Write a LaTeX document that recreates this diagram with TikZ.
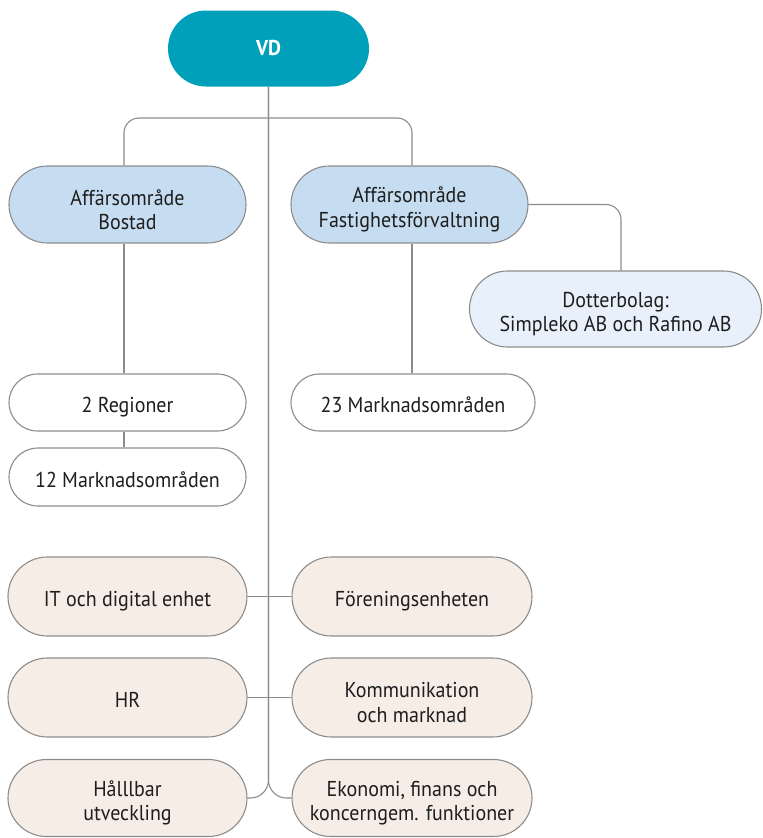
\documentclass[tikz,border=0pt]{standalone}
\usepackage{fontspec}
\setmainfont{PT Sans}[FakeStretch=0.93]
\usetikzlibrary{shapes.misc}
\definecolor{teal}{HTML}{00A0BA}
\definecolor{aoblue}{HTML}{C6DDF1}
\definecolor{subblue}{HTML}{E8F1FB}
\definecolor{beige}{HTML}{F6EDE7}
\definecolor{edge}{HTML}{8C8C8C}
\definecolor{txt}{HTML}{1E1E1E}
\tikzset{
  pill/.style={rounded rectangle, draw=edge, line width=1.1pt, inner sep=0pt,
    align=center, text=txt, font=\fontsize{21.5}{24.5}\selectfont,
    execute at begin node=\rule{0pt}{26pt},
    execute at end node=\rule[-6pt]{0pt}{6pt}},
  pilltext/.style={inner sep=0pt, align=center, text=txt, font=\fontsize{21.5}{24.5}\selectfont},
  conn/.style={draw=edge, line width=1.1pt},
}
\begin{document}
\begin{tikzpicture}[x=1pt,y=-1pt]
\useasboundingbox (0,0) rectangle (763,838);
% nodes
\node[rounded rectangle, fill=teal, inner sep=0pt, minimum width=201pt, minimum height=76pt, text=white, font=\fontsize{21.5}{24}\selectfont\bfseries] (vd) at (268.5,48.5) {\rule[-6pt]{0pt}{26pt}VD};
\node[pill, fill=aoblue, minimum width=237pt, minimum height=77pt] (bostad) at (127.5,204.5) {};
\node[pill, fill=aoblue, minimum width=237pt, minimum height=77pt] (fast) at (409.5,204.5) {};
\node[pill, fill=subblue, minimum width=292pt, minimum height=76pt] (dotter) at (615.5,309) {};
\node[pill, fill=white, minimum width=237pt, minimum height=57pt] (reg) at (127.5,402.5) {2 Regioner};
\node[pill, fill=white, minimum width=237pt, minimum height=58pt] (mk12) at (127.5,477) {12 Marknadsområden};
\node[pill, fill=white, minimum width=244pt, minimum height=57pt] (mk23) at (413,402.5) {23 Marknadsområden};
\node[pill, fill=beige, minimum width=239pt, minimum height=79pt] (it) at (127.5,596.5) {IT och digital enhet};
\node[pill, fill=beige, minimum width=240pt, minimum height=79pt] (foren) at (412,596.5) {Föreningsenheten};
\node[pill, fill=beige, minimum width=239pt, minimum height=79pt] (hr) at (127.5,697.5) {HR};
\node[pill, fill=beige, minimum width=240pt, minimum height=79pt] (komm) at (412,697.5) {};
\node[pill, fill=beige, minimum width=239pt, minimum height=77pt] (hall) at (127.5,798) {};
\node[pill, fill=beige, minimum width=240pt, minimum height=77pt] (ekon) at (412,798) {};
% two-line texts
\node[pilltext] (bostadT) at ([yshift=-5pt]bostad.center) {Affärsområde\\Bostad};
\node[pilltext] (fastT) at ([yshift=-5pt]fast.center) {Affärsområde\\Fastighetsförvaltning};
\node[pilltext] (dotterT) at ([yshift=-5pt]dotter.center) {Dotterbolag:\\Simpleko AB och Rafino AB};
\node[pilltext] (kommT) at ([yshift=-5pt]komm.center) {Kommunikation\\och marknad};
\node[pilltext] (hallT) at ([yshift=-5pt]hall.center) {Hålllbar\\utveckling};
\node[pilltext] (ekonT) at ([yshift=-5pt]ekon.center) {Ekonomi, finans och\\koncerngem. funktioner};
% helper columns
\coordinate (bx) at (124,0);
\coordinate (fx) at (412,0);
\coordinate (dx) at (621,0);
\coordinate (top) at (0,118);
% connectors
\draw[conn, rounded corners=18pt] (vd.south) |- (hall.east);
\draw[conn, rounded corners=18pt] (vd.south) |- (ekon.west);
\draw[conn, rounded corners=15pt] (bostad.north -| bx) |- (top -| vd.south) -| (fast.north -| fx);
\draw[conn] (bostad.south -| bx) -- (reg.north -| bx);
\draw[conn] (reg.south -| bx) -- (mk12.north -| bx);
\draw[conn] (fast.south -| fx) -- (mk23.north -| fx);
\draw[conn, rounded corners=15pt] (fast.east) -| (dotter.north -| dx);
\draw[conn] (it.east) -- (foren.west);
\draw[conn] (hr.east) -- (komm.west);
\end{tikzpicture}
\end{document}
